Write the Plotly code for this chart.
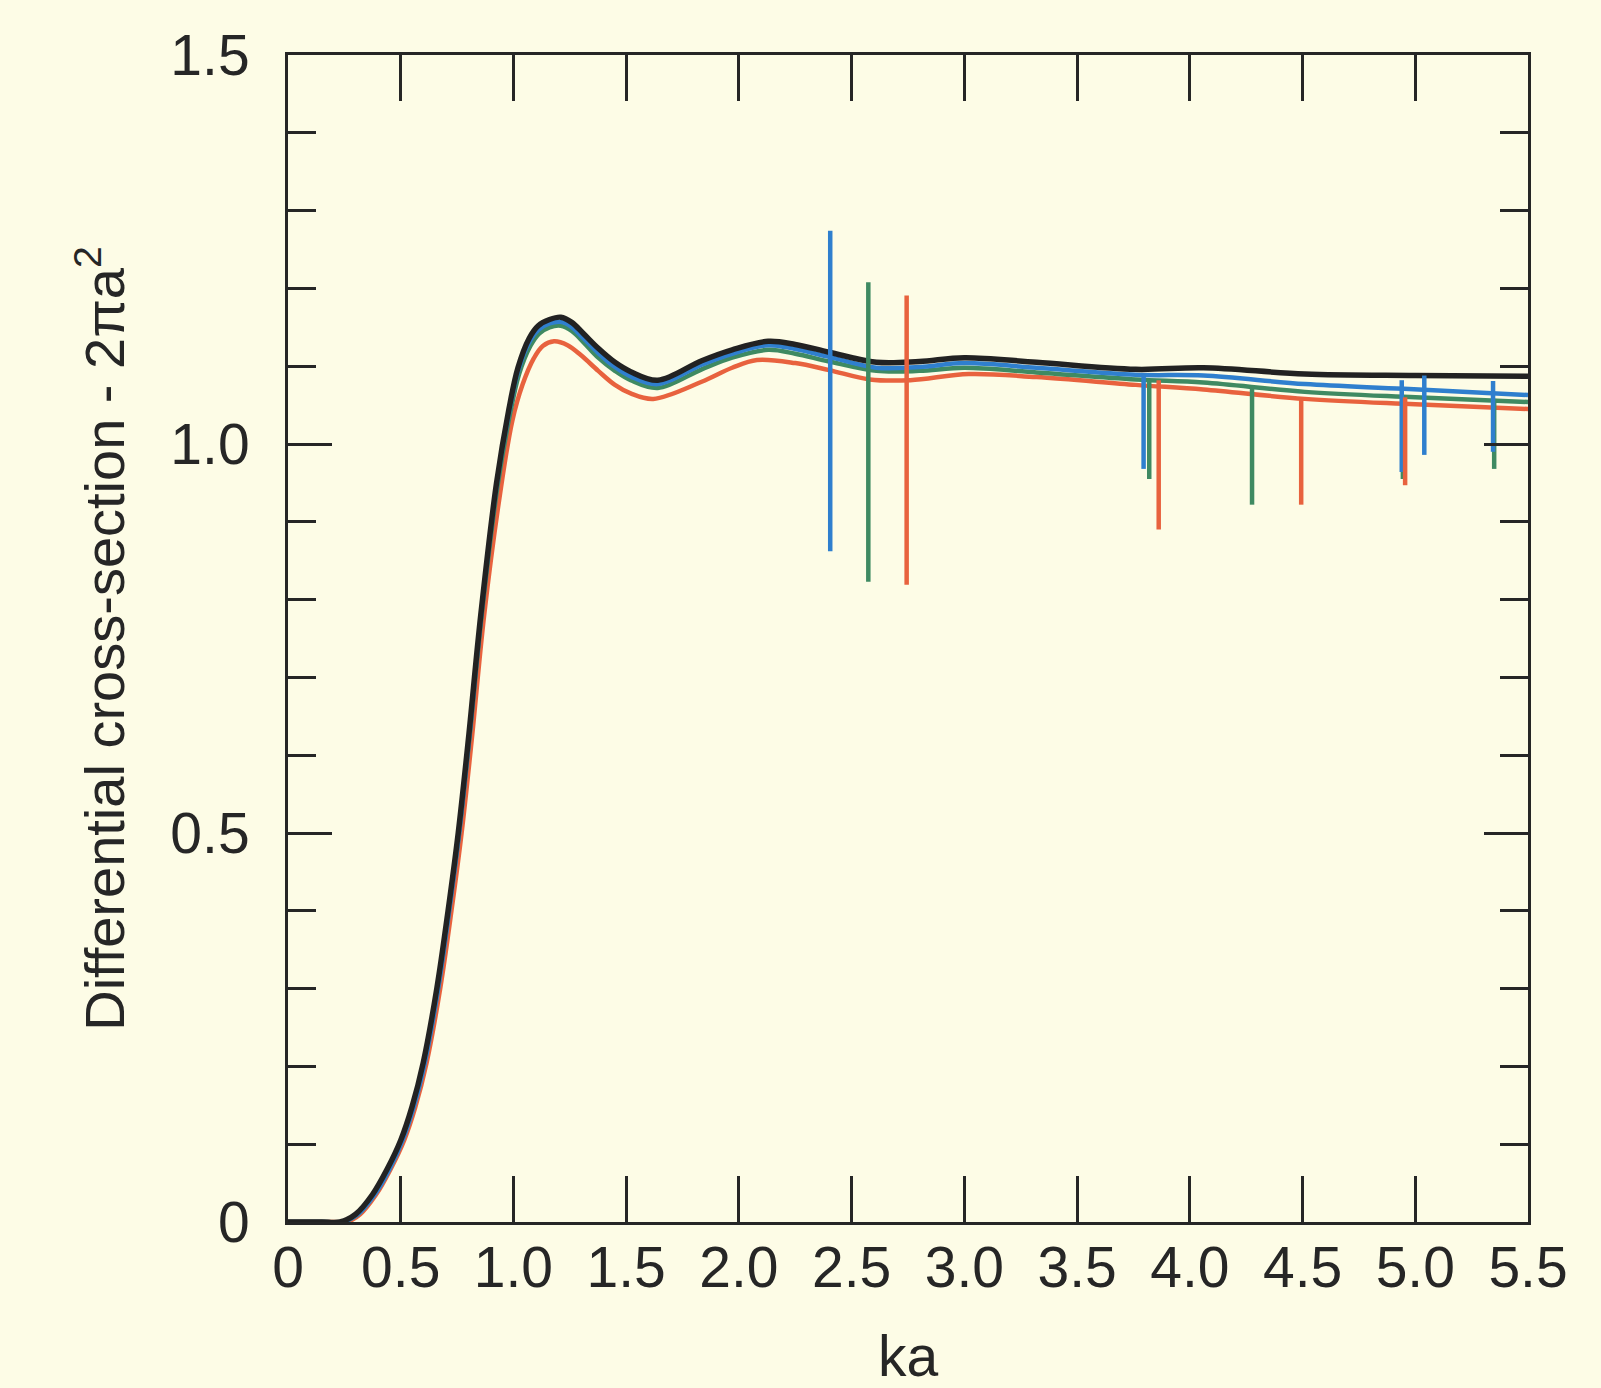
import plotly.graph_objects as go

# ---------------- data ----------------
ka_black = [0, 0.15, 0.23, 0.30, 0.374, 0.44, 0.50, 0.55, 0.60, 0.66, 0.71, 0.755, 0.80, 0.855,
            0.925, 0.98, 1.02, 1.07, 1.11, 1.16, 1.21, 1.26, 1.31, 1.376, 1.45, 1.52, 1.64,
            1.835, 1.97, 2.13, 2.25, 2.40, 2.61, 2.80, 3.00, 3.32, 3.76, 4.06, 4.51, 5.00, 5.50]
cs_black = [0, 0, 0.0, 0.010, 0.035, 0.068, 0.105, 0.148, 0.205, 0.30, 0.40, 0.50, 0.62, 0.78,
            0.95, 1.045, 1.098, 1.136, 1.152, 1.160, 1.163, 1.156, 1.142, 1.123, 1.105, 1.093, 1.082,
            1.107, 1.121, 1.132, 1.128, 1.118, 1.105, 1.106, 1.111, 1.105, 1.096, 1.098, 1.090, 1.088, 1.087]

ka_blue = [0, 0.16, 0.24, 0.31, 0.384, 0.45, 0.508, 0.558, 0.607, 0.666, 0.715, 0.759, 0.803, 0.857,
           0.927, 0.982, 1.022, 1.072, 1.112, 1.16, 1.21, 1.26, 1.31, 1.376, 1.45, 1.52, 1.64,
           1.835, 1.97, 2.13, 2.25, 2.40, 2.61, 2.80, 3.00, 3.32, 3.76, 4.06, 4.51, 4.95, 5.50]
cs_blue = [0, 0, 0.0, 0.010, 0.035, 0.068, 0.105, 0.148, 0.205, 0.30, 0.40, 0.50, 0.62, 0.78,
           0.95, 1.043, 1.095, 1.132, 1.147, 1.155, 1.157, 1.150, 1.136, 1.117, 1.099, 1.087, 1.077,
           1.102, 1.116, 1.127, 1.122, 1.112, 1.098, 1.099, 1.104, 1.098, 1.089, 1.088, 1.077, 1.071, 1.063]

ka_green = [0, 0.16, 0.24, 0.31, 0.38, 0.446, 0.505, 0.555, 0.605, 0.665, 0.714, 0.759, 0.804, 0.859,
            0.929, 0.985, 1.025, 1.075, 1.114, 1.16, 1.21, 1.26, 1.31, 1.376, 1.45, 1.52, 1.64,
            1.835, 1.97, 2.13, 2.25, 2.40, 2.61, 2.80, 3.00, 3.32, 3.76, 4.06, 4.51, 5.00, 5.50]
cs_green = [0, 0, 0.0, 0.010, 0.035, 0.068, 0.105, 0.148, 0.205, 0.30, 0.40, 0.50, 0.62, 0.78,
            0.945, 1.039, 1.090, 1.126, 1.142, 1.150, 1.152, 1.145, 1.131, 1.111, 1.094, 1.082, 1.072,
            1.096, 1.111, 1.121, 1.116, 1.106, 1.094, 1.094, 1.098, 1.092, 1.083, 1.079, 1.067, 1.060, 1.054]

ka_red = [0, 0.20, 0.26, 0.32, 0.39, 0.455, 0.515, 0.565, 0.615, 0.675, 0.725, 0.77, 0.815, 0.87,
          0.94, 0.995, 1.04, 1.09, 1.13, 1.18, 1.24, 1.30, 1.376, 1.45, 1.52, 1.62,
          1.835, 1.97, 2.08, 2.25, 2.40, 2.58, 2.76, 3.02, 3.32, 3.76, 4.06, 4.51, 5.00, 5.50]
cs_red = [0, 0, 0.0, 0.010, 0.035, 0.068, 0.105, 0.148, 0.205, 0.30, 0.40, 0.50, 0.62, 0.78,
          0.935, 1.030, 1.076, 1.110, 1.126, 1.132, 1.127, 1.114, 1.094, 1.076, 1.065, 1.058,
          1.080, 1.098, 1.108, 1.104, 1.095, 1.083, 1.082, 1.090, 1.086, 1.076, 1.070, 1.058, 1.051, 1.045]

# resonance spikes: position, top value, bottom value
spike_ka_blue = [2.405, 3.795, 4.94, 5.04, 5.345]
spike_top_blue = [1.274, 1.089, 1.082, 1.088, 1.081]
spike_bot_blue = [0.862, 0.968, 0.964, 0.986, 0.990]

spike_ka_green = [2.574, 3.82, 4.276, 4.945, 5.35]
spike_top_green = [1.208, 1.083, 1.075, 1.062, 1.058]
spike_bot_green = [0.823, 0.955, 0.922, 0.955, 0.968]

spike_ka_red = [2.744, 3.862, 4.494, 4.955]
spike_top_red = [1.191, 1.082, 1.058, 1.060]
spike_bot_red = [0.819, 0.890, 0.922, 0.947]

x_tickvals = [0, 0.5, 1.0, 1.5, 2.0, 2.5, 3.0, 3.5, 4.0, 4.5, 5.0, 5.5]
x_ticktext = ["0", "0.5", "1.0", "1.5", "2.0", "2.5", "3.0", "3.5", "4.0", "4.5", "5.0", "5.5"]
y_tickvals = [0, 0.5, 1.0, 1.5]
y_ticktext = ["0", "0.5", "1.0", "1.5"]

# ---------------- styles ----------------
BG = "#FDFCE6"
INK = "#262626"
C_BLACK = "#222222"
C_BLUE = "#2f7fce"
C_GREEN = "#3f8a62"
C_RED = "#e8623e"
FONT = "Liberation Sans, Arial, sans-serif"

fig = go.Figure()

for ka, cs, col, w in [(ka_red, cs_red, C_RED, 4.5), (ka_green, cs_green, C_GREEN, 4.5),
                       (ka_blue, cs_blue, C_BLUE, 4.5), (ka_black, cs_black, C_BLACK, 5.5)]:
    fig.add_trace(go.Scatter(x=ka, y=cs, mode="lines",
                             line=dict(color=col, width=w, shape="spline", smoothing=1.0),
                             showlegend=False, hoverinfo="skip"))


def spike_xy(kas, tops, bots):
    xs, ys = [], []
    for k, t, b in zip(kas, tops, bots):
        xs += [k, k, None]
        ys += [t, b, None]
    return xs, ys


for kas, tops, bots, col in [(spike_ka_green, spike_top_green, spike_bot_green, C_GREEN),
                             (spike_ka_blue, spike_top_blue, spike_bot_blue, C_BLUE),
                             (spike_ka_red, spike_top_red, spike_bot_red, C_RED)]:
    xs, ys = spike_xy(kas, tops, bots)
    fig.add_trace(go.Scatter(x=xs, y=ys, mode="lines", line=dict(color=col, width=4.5),
                             connectgaps=False, showlegend=False, hoverinfo="skip"))

fig.update_layout(
    width=1601, height=1388,
    margin=dict(l=288, r=73, t=55, b=166),
    paper_bgcolor=BG, plot_bgcolor=BG,
    font=dict(family=FONT, color=INK, size=57),
    xaxis=dict(range=[0, 5.5], tickvals=x_tickvals, ticktext=x_ticktext,
               ticks="inside", ticklen=46, tickwidth=3, tickcolor=INK,
               showline=True, linewidth=3, linecolor=INK, mirror="ticks",
               showgrid=False, zeroline=False, ticklabelstandoff=-6,
               tickfont=dict(size=57, family=FONT, color=INK),
               title=dict(text="ka", font=dict(size=57, family=FONT, color=INK), standoff=63),
               automargin=False),
    yaxis=dict(range=[0, 1.5], tickvals=y_tickvals, ticktext=y_ticktext,
               ticks="inside", ticklen=44, tickwidth=3, tickcolor=INK,
               minor=dict(dtick=0.1, ticks="inside", ticklen=28, tickwidth=3, tickcolor=INK),
               showline=True, linewidth=3, linecolor=INK, mirror="ticks",
               showgrid=False, zeroline=False, ticklabelstandoff=24,
               tickfont=dict(size=57, family=FONT, color=INK),
               title=dict(text="Differential cross-section - 2\u03c0a<sup>2</sup>",
                          font=dict(size=56, family=FONT, color=INK), standoff=28),
               automargin=False),
)

fig.write_html(
    "out.html",
    config={"displayModeBar": False},
    post_script="document.body.style.margin='0px';document.body.style.background='%s';" % BG,
)
